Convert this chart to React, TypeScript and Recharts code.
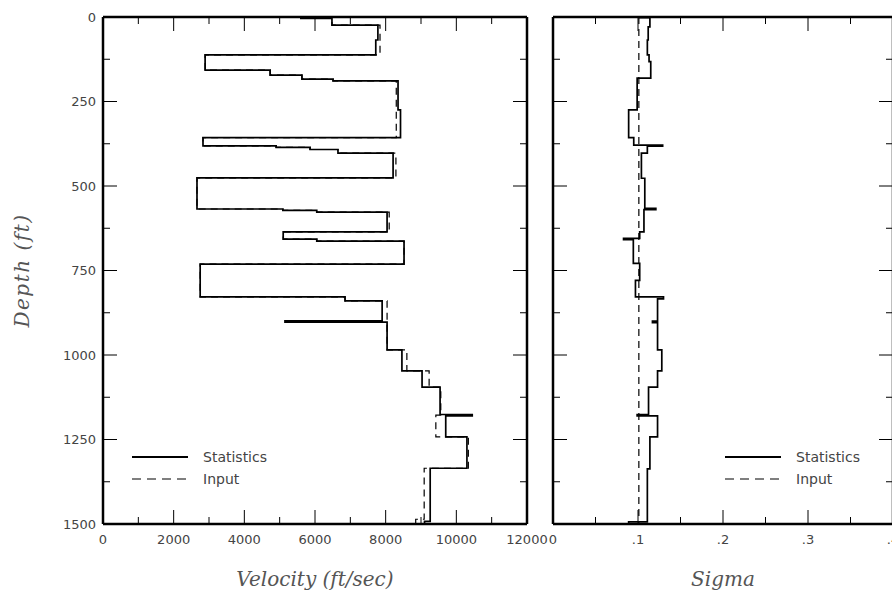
import React from "react";
import { LineChart, Line, XAxis, YAxis, Legend } from "recharts";

// axis ticks
const depthTicks = [0, 125, 250, 375, 500, 625, 750, 875, 1000, 1125, 1250, 1375, 1500];
const depthLabels = [0, 250, 500, 750, 1000, 1250, 1500];
const velocityTicks = [0, 1000, 2000, 3000, 4000, 5000, 6000, 7000, 8000, 9000, 10000, 11000, 12000];
const velocityLabels = [0, 2000, 4000, 6000, 8000, 10000, 12000];
const sigmaTicks = [0, 0.05, 0.1, 0.15, 0.2, 0.25, 0.3, 0.35, 0.4];
const sigmaLabels = [0, 0.1, 0.2, 0.3, 0.4];

// velocity layers: top depth (ft) and value (ft/sec)
const velStatTops = [0, 4, 24, 68, 112, 157, 172, 184, 189, 275, 357, 381, 386, 392, 403, 476, 568, 572, 577, 636, 657, 663, 731, 828, 840, 899, 903, 985, 1047, 1095, 1176, 1180, 1242, 1335, 1492];
const velStatValues = [5600, 6480, 7780, 7720, 2890, 4730, 5630, 6510, 8350, 8420, 2830, 4900, 5860, 6650, 8210, 2660, 5090, 6050, 8040, 5100, 6050, 8520, 2750, 6850, 7900, 5150, 8040, 8460, 9030, 9540, 10450, 9700, 10300, 9260, 9100];
const velInputTops = [0, 4, 24, 112, 157, 172, 184, 189, 357, 381, 386, 392, 403, 476, 568, 572, 577, 636, 657, 663, 731, 828, 840, 985, 1047, 1095, 1178, 1242, 1335, 1486];
const velInputValues = [5600, 6480, 7840, 2890, 4730, 5630, 6510, 8300, 2830, 4900, 5860, 6650, 8290, 2660, 5090, 6050, 8100, 5100, 6050, 8520, 2750, 6850, 8040, 8600, 9230, 9560, 9420, 10340, 9090, 8850];

// sigma layers
const sigStatTops = [0, 2, 29, 68, 112, 132, 181, 275, 357, 379, 382, 403, 477, 566, 570, 636, 655, 659, 729, 779, 828, 834, 900, 904, 985, 1047, 1095, 1176, 1180, 1242, 1337, 1494];
const sigStatValues = [0.102, 0.114, 0.112, 0.111, 0.113, 0.115, 0.099, 0.089, 0.095, 0.129, 0.111, 0.104, 0.108, 0.121, 0.107, 0.102, 0.083, 0.0945, 0.102, 0.097, 0.13, 0.123, 0.117, 0.123, 0.128, 0.123, 0.1124, 0.099, 0.123, 0.114, 0.111, 0.089];
const sigInputTops = [0];
const sigInputValues = [0.101];

const MAX_DEPTH = 1500;

function toSteps(tops: number[], values: number[]) {
  return tops.flatMap((t, i) => [
    { depth: t, v: values[i] },
    { depth: i + 1 < tops.length ? tops[i + 1] : MAX_DEPTH, v: values[i] },
  ]);
}

const axisLine = { stroke: "#000", strokeWidth: 2.5 };
const tickText = { fontFamily: "DejaVu Sans", fontSize: 13, fill: "#444" };
const titleStyle = { fontFamily: "DejaVu Serif", fontStyle: "italic", fontSize: 20, fill: "#555" };

type Side = "top" | "bottom" | "left" | "right";

function makeTick(side: Side, majors: number[], gap: number, showLabels: boolean, fmt: (v: number) => string) {
  return function Tick(props: any) {
    const { x, y, payload } = props;
    const value: number = payload.value;
    const isMajor = majors.some((m) => Math.abs(m - value) < 1e-9);
    const len = isMajor ? 14 : 7;
    let line;
    let label = null;
    if (side === "bottom") {
      line = <line x1={x} x2={x} y1={y - gap} y2={y - gap - len} stroke="#000" strokeWidth={1} />;
      if (showLabels && isMajor)
        label = <text x={x} y={y} dy="0.71em" textAnchor="middle" {...tickText}>{fmt(value)}</text>;
    } else if (side === "top") {
      line = <line x1={x} x2={x} y1={y} y2={y + len} stroke="#000" strokeWidth={1} />;
    } else if (side === "left") {
      line = <line x1={x + gap} x2={x + gap + len} y1={y} y2={y} stroke="#000" strokeWidth={1} />;
      if (showLabels && isMajor)
        label = <text x={x} y={y} dy="0.35em" textAnchor="end" {...tickText}>{fmt(value)}</text>;
    } else {
      line = <line x1={x} x2={x - len} y1={y} y2={y} stroke="#000" strokeWidth={1} />;
    }
    return (
      <g>
        {line}
        {label}
      </g>
    );
  };
}

const plain = (v: number) => String(v);
const sigmaFmt = (v: number) => (v === 0 ? "0" : v.toFixed(1).replace(/^0/, ""));

function LegendBox() {
  return (
    <svg width={170} height={44}>
      <line x1={4} x2={60} y1={11} y2={11} stroke="#000" strokeWidth={2} />
      <text x={75} y={11} dy="0.35em" {...tickText} fontSize={14}>Statistics</text>
      <line x1={4} x2={60} y1={33} y2={33} stroke="#000" strokeWidth={1.2} strokeDasharray="9 6" />
      <text x={75} y={33} dy="0.35em" {...tickText} fontSize={14}>Input</text>
    </svg>
  );
}

interface PanelProps {
  width: number;
  leftWidth: number;
  rightMargin: number;
  domain: [number, number];
  xTicks: number[];
  xLabels: number[];
  fmt: (v: number) => string;
  depthLabelsShown: boolean;
  title: string;
  stat: { depth: number; v: number }[];
  input: { depth: number; v: number }[];
  legendLeft: number;
}

function Panel(p: PanelProps) {
  return (
    <LineChart
      layout="vertical"
      width={p.width}
      height={596}
      margin={{ top: 16, right: p.rightMargin, bottom: 8, left: 0 }}
    >
      <XAxis
        type="number"
        dataKey="v"
        domain={p.domain}
        allowDataOverflow
        ticks={p.xTicks}
        interval={0}
        height={64}
        axisLine={axisLine}
        tickLine={false}
        tickSize={0}
        tickMargin={11}
        tick={makeTick("bottom", p.xLabels, 11, true, p.fmt)}
        label={{ value: p.title, position: "insideBottom", offset: 2, style: titleStyle }}
      />
      <XAxis
        xAxisId="top"
        orientation="top"
        type="number"
        domain={p.domain}
        allowDataOverflow
        ticks={p.xTicks}
        interval={0}
        height={1}
        axisLine={axisLine}
        tickLine={false}
        tickSize={0}
        tickMargin={0}
        tick={makeTick("top", p.xLabels, 0, false, p.fmt)}
      />
      <YAxis
        type="number"
        dataKey="depth"
        domain={[0, MAX_DEPTH]}
        allowDataOverflow
        ticks={depthTicks}
        interval={0}
        width={p.leftWidth}
        axisLine={axisLine}
        tickLine={false}
        tickSize={0}
        tickMargin={7}
        tick={makeTick("left", depthLabels, 7, p.depthLabelsShown, plain)}
        label={
          p.depthLabelsShown
            ? { value: "Depth (ft)", angle: -90, position: "insideLeft", offset: 22, style: { ...titleStyle, textAnchor: "middle", letterSpacing: 1.5 } }
            : undefined
        }
      />
      <YAxis
        yAxisId="right"
        orientation="right"
        type="number"
        dataKey="depth"
        domain={[0, MAX_DEPTH]}
        allowDataOverflow
        ticks={depthTicks}
        interval={0}
        width={1}
        axisLine={axisLine}
        tickLine={false}
        tickSize={0}
        tickMargin={0}
        tick={makeTick("right", depthLabels, 0, false, plain)}
      />
      <Legend
        layout="vertical"
        align="center"
        verticalAlign="middle"
        content={() => <LegendBox />}
        wrapperStyle={{ left: p.legendLeft, top: 446, width: 170, height: 44 }}
      />
      <Line
        data={p.input}
        dataKey="v"
        type="linear"
        dot={false}
        stroke="#000"
        strokeWidth={1.2}
        strokeDasharray="7 5"
        isAnimationActive={false}
      />
      <Line
        data={p.stat}
        dataKey="v"
        type="linear"
        dot={false}
        stroke="#000"
        strokeWidth={1.7}
        isAnimationActive={false}
      />
    </LineChart>
  );
}

export default function App() {
  return (
    <div style={{ position: "absolute", left: 0, top: 0, width: 892, height: 596, overflow: "hidden", background: "#fff" }}>
      <div style={{ position: "absolute", left: 0, top: 0 }}>
        <Panel
          width={552}
          leftWidth={103}
          rightMargin={24}
          domain={[0, 12000]}
          xTicks={velocityTicks}
          xLabels={velocityLabels}
          fmt={plain}
          depthLabelsShown
          title="Velocity (ft/sec)"
          stat={toSteps(velStatTops, velStatValues)}
          input={toSteps(velInputTops, velInputValues)}
          legendLeft={128}
        />
      </div>
      <div style={{ position: "absolute", left: 530, top: 0 }}>
        <Panel
          width={364}
          leftWidth={23}
          rightMargin={0}
          domain={[0, 0.4]}
          xTicks={sigmaTicks}
          xLabels={sigmaLabels}
          fmt={sigmaFmt}
          depthLabelsShown={false}
          title="Sigma"
          stat={toSteps(sigStatTops, sigStatValues)}
          input={toSteps(sigInputTops, sigInputValues)}
          legendLeft={191}
        />
      </div>
    </div>
  );
}
